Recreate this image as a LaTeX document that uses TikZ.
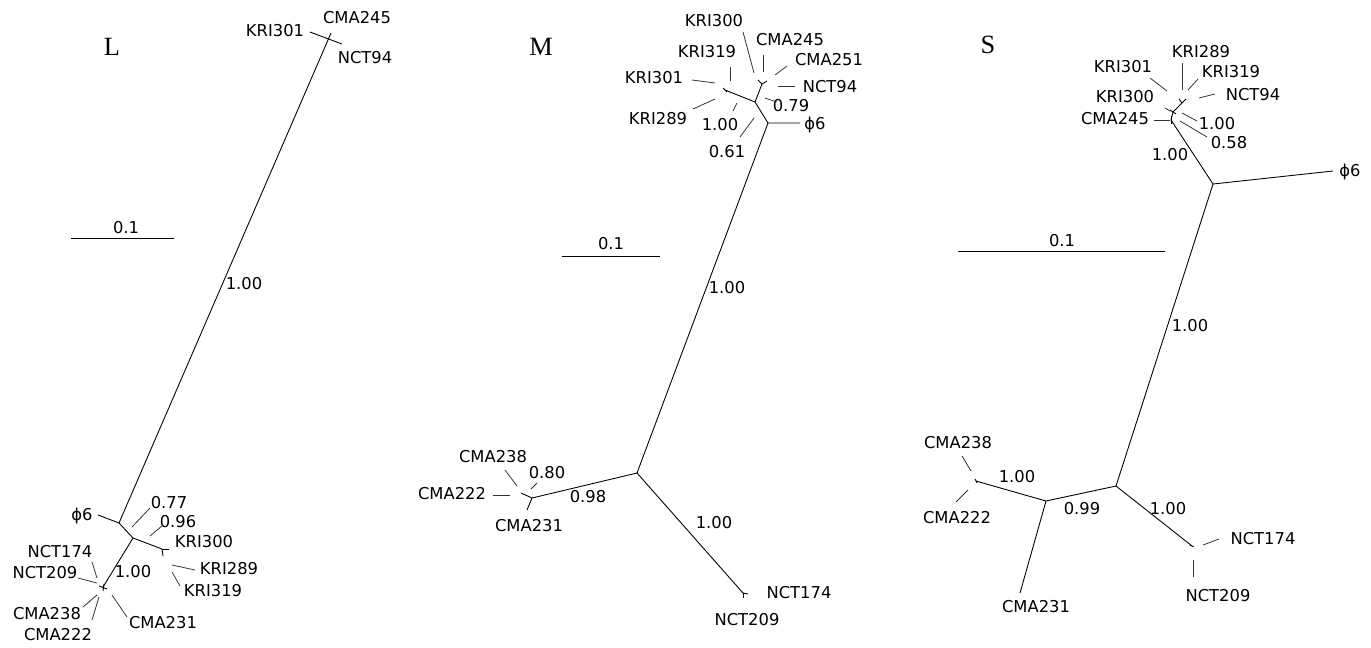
\documentclass[tikz,border=0pt]{standalone}
\usepackage{fontspec}
\setmainfont{DejaVu Sans}
\newfontfamily\panelfont{Liberation Serif}
\begin{document}
\begin{tikzpicture}[x=0.02cm,y=-0.02cm,
  lbl/.style={font=\fontsize{9.3}{11}\selectfont, inner sep=0pt},
  panel/.style={font=\panelfont\fontsize{15}{18}\selectfont, inner sep=0pt},
  branch/.style={line width=0.5pt},
  leader/.style={line width=0.45pt, black!80}]
\useasboundingbox (0,0) rectangle (1371,647);

% panel L
\node[panel] (Lname) at (112,47) {L};
\coordinate (LsA) at (71,238);
\coordinate (LsB) at (174,238);
\draw[branch] (LsA) -- (LsB);
\node[lbl] (Lscale) at (126,228) {0.1};
\coordinate (Ltop) at (331,33);
\coordinate (LA) at (119,523);
\coordinate (Lphi) at (98,515);
\coordinate (LB) at (133,538);
\coordinate (LC) at (162,549);
\coordinate (LD) at (103,587);
\draw[branch] (Ltop) -- (LA) -- (LB) -- (LC);
\draw[branch] (Lphi) -- (LA);
\draw[branch] (LB) -- (LD);
\draw[branch] (310,32) -- (342,44);
\draw[branch] (LC) -- ++(7,0);
\draw[branch] (LC) -- ++(1,7);
\draw[branch] (99,586) -- (107,589);
\draw[branch] (104,584) -- (103,591);
\node[lbl] (Lphi6) at (82,516) {ϕ6};
\node[lbl] (LKRI301) at (275,31) {KRI301};
\node[lbl] (LCMA245) at (357,18) {CMA245};
\node[lbl] (LNCT94) at (365,58) {NCT94};
\node[lbl] (Lb1) at (244,284) {1.00};
\node[lbl] (Lb2) at (169,503) {0.77};
\node[lbl] (Lb3) at (178,522) {0.96};
\node[lbl] (Lb4) at (133,572) {1.00};
\node[lbl] (LKRI300) at (204,542) {KRI300};
\node[lbl] (LKRI289) at (229,569) {KRI289};
\node[lbl] (LKRI319) at (213,591) {KRI319};
\node[lbl] (LNCT174) at (60,552) {NCT174};
\node[lbl] (LNCT209) at (45,573) {NCT209};
\node[lbl] (LCMA238) at (47,614) {CMA238};
\node[lbl] (LCMA222) at (58,635) {CMA222};
\node[lbl] (LCMA231) at (163,623) {CMA231};
\draw[leader] (132,527) -- (150,508);
\draw[leader] (150,536) -- (163,525);
\draw[leader] (172,565) -- (195,570);
\draw[leader] (172,572) -- (180,586);
\draw[leader] (92,562) -- (97,578);
\draw[leader] (78,578) -- (97,583);
\draw[leader] (83,607) -- (97,595);
\draw[leader] (92,620) -- (99,597);
\draw[leader] (112,595) -- (127,617);

% panel M
\node[panel] (Mname) at (541,47) {M};
\coordinate (MsA) at (562,256);
\coordinate (MsB) at (660,256);
\draw[branch] (MsA) -- (MsB);
\node[lbl] (Mscale) at (611,244) {0.1};
\coordinate (MP) at (768,123);
\coordinate (Mphi) at (800,123);
\coordinate (MQ) at (637,473);
\coordinate (MF) at (755,102);
\coordinate (MG) at (762,84);
\coordinate (MH) at (725,90);
\coordinate (MC) at (532,498);
\coordinate (MN) at (743,593);
\draw[branch] (MQ) -- (MP) -- (Mphi);
\draw[branch] (MP) -- (MF) -- (MG);
\draw[branch] (MF) -- (MH);
\draw[branch] (MQ) -- (MC);
\draw[branch] (MQ) -- (MN);
\draw[branch] (MG) -- (758,80);
\draw[branch] (MG) -- (767,81);
\draw[branch] (723,88) -- (727,92);
\draw[branch] (521,493) -- (MC) -- (527,510);
\draw[branch] (MN) -- (748,594);
\draw[branch] (MN) -- (743,598);
\node[lbl] (MKRI300) at (714,21) {KRI300};
\node[lbl] (MCMA245) at (790,40) {CMA245};
\node[lbl] (MKRI319) at (707,52) {KRI319};
\node[lbl] (MCMA251) at (829,60) {CMA251};
\node[lbl] (MKRI301) at (654,78) {KRI301};
\node[lbl] (MNCT94) at (830,87) {NCT94};
\node[lbl] (Mb1) at (791,106) {0.79};
\node[lbl] (Mphi6) at (815,125) {ϕ6};
\node[lbl] (MKRI289) at (658,119) {KRI289};
\node[lbl] (Mb2) at (720,125) {1.00};
\node[lbl] (Mb3) at (727,152) {0.61};
\node[lbl] (Mb4) at (727,288) {1.00};
\node[lbl] (MCMA238) at (493,457) {CMA238};
\node[lbl] (Mb5) at (547,473) {0.80};
\node[lbl] (MCMA222) at (452,494) {CMA222};
\node[lbl] (Mb6) at (588,497) {0.98};
\node[lbl] (MCMA231) at (529,526) {CMA231};
\node[lbl] (Mb7) at (714,523) {1.00};
\node[lbl] (MNCT174) at (799,593) {NCT174};
\node[lbl] (MNCT209) at (747,620) {NCT209};
\draw[leader] (692,80) -- (715,83);
\draw[leader] (730,67) -- (730,81);
\draw[leader] (743,32) -- (754,73);
\draw[leader] (763,55) -- (763,72);
\draw[leader] (775,75) -- (787,66);
\draw[leader] (778,86) -- (795,86);
\draw[leader] (765,98) -- (777,102);
\draw[leader] (693,109) -- (715,99);
\draw[leader] (733,111) -- (737,103);
\draw[leader] (740,137) -- (754,118);
\draw[leader] (505,470) -- (517,486);
\draw[leader] (531,489) -- (537,483);
\draw[leader] (493,495) -- (510,495);

% panel S
\node[panel] (Sname) at (988,45) {S};
\coordinate (SsA) at (958,251);
\coordinate (SsB) at (1165,251);
\draw[branch] (SsA) -- (SsB);
\node[lbl] (Sscale) at (1062,241) {0.1};
\coordinate (SR) at (1213,184);
\coordinate (Sphi) at (1333,171);
\coordinate (ST) at (1171,120);
\coordinate (ST1) at (1173,112);
\coordinate (ST2) at (1182,103);
\coordinate (SU) at (1116,486);
\coordinate (SV) at (1046,501);
\coordinate (SW) at (976,481);
\coordinate (S231) at (1020,593);
\coordinate (SX) at (1192,546);
\draw[branch] (SR) -- (Sphi);
\draw[branch] (SR) -- (ST) -- (ST1) -- (ST2);
\draw[branch] (SR) -- (SU) -- (SV) -- (SW);
\draw[branch] (SV) -- (S231);
\draw[branch] (SU) -- (SX);
\draw[branch] (1171,116) -- (1171,124);
\draw[branch] (1170,110) -- (1176,114);
\draw[branch] (ST2) -- (1179,99);
\draw[branch] (ST2) -- (1186,99);
\draw[branch] (975,479) -- (977,483);
\draw[branch] (1190,545) -- (1194,547);
\node[lbl] (SKRI289) at (1201,52) {KRI289};
\node[lbl] (SKRI301) at (1123,67) {KRI301};
\node[lbl] (SKRI319) at (1231,72) {KRI319};
\node[lbl] (SNCT94) at (1253,95) {NCT94};
\node[lbl] (SKRI300) at (1125,97) {KRI300};
\node[lbl] (SCMA245) at (1115,119) {CMA245};
\node[lbl] (Sb1) at (1217,124) {1.00};
\node[lbl] (Sb2) at (1229,143) {0.58};
\node[lbl] (Sb3) at (1170,155) {1.00};
\node[lbl] (Sphi6) at (1350,172) {ϕ6};
\node[lbl] (Sb4) at (1190,326) {1.00};
\node[lbl] (SCMA238) at (958,443) {CMA238};
\node[lbl] (Sb5) at (1017,477) {1.00};
\node[lbl] (Sb6) at (1082,509) {0.99};
\node[lbl] (Sb7) at (1168,509) {1.00};
\node[lbl] (SCMA222) at (957,518) {CMA222};
\node[lbl] (SNCT174) at (1263,539) {NCT174};
\node[lbl] (SNCT209) at (1218,596) {NCT209};
\node[lbl] (SCMA231) at (1036,607) {CMA231};
\draw[leader] (1150,78) -- (1167,91);
\draw[leader] (1182,63) -- (1182,90);
\draw[leader] (1198,79) -- (1188,90);
\draw[leader] (1199,98) -- (1215,94);
\draw[leader] (1165,108) -- (1170,111);
\draw[leader] (1154,120) -- (1170,120);
\draw[leader] (1182,113) -- (1197,121);
\draw[leader] (1180,121) -- (1207,137);
\draw[leader] (962,456) -- (971,471);
\draw[leader] (956,502) -- (968,490);
\draw[leader] (1203,545) -- (1219,539);
\draw[leader] (1193,560) -- (1193,577);
\end{tikzpicture}
\end{document}
